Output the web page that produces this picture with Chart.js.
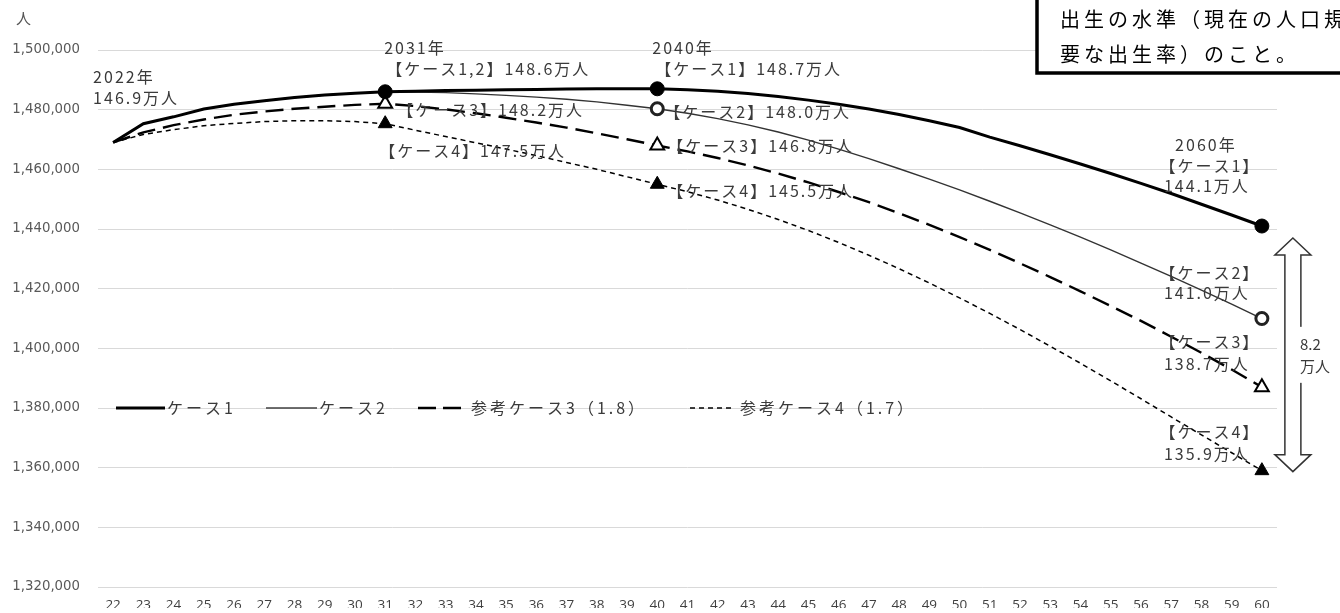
<!DOCTYPE html>
<html>
<head>
<meta charset="utf-8">
<script src="https://cdn.jsdelivr.net/npm/chart.js@4"></script>
<style>
    body { margin: 0; background: #fff; }
    #wrap { width: 1340px; height: 613px; position: relative; }
</style>
</head>
<body>
<div id="wrap"><canvas id="popChart"></canvas></div>
<script>
// years (20xx)
var years = ['22', '23', '24', '25', '26', '27', '28', '29', '30', '31', '32', '33', '34', '35', '36', '37', '38', '39', '40',
    '41', '42', '43', '44', '45', '46', '47', '48', '49', '50', '51', '52', '53', '54', '55', '56', '57', '58', '59', '60'];

var case1 = [1469000, 1475300, 1477600, 1480200, 1481800, 1483000, 1484100, 1484900, 1485500, 1486000,
    1486200, 1486400, 1486500, 1486700, 1486800, 1486900, 1487000, 1487000, 1487000,
    1486700, 1486200, 1485400, 1484400, 1483200, 1481800, 1480200, 1478400, 1476300, 1474000,
    1470800, 1467900, 1464900, 1461800, 1458600, 1455300, 1451900, 1448300, 1444700, 1441000];

var case2 = [1469000, 1475300, 1477600, 1480200, 1481800, 1483000, 1484100, 1484900, 1485500, 1486000,
    1485900, 1485700, 1485300, 1484800, 1484200, 1483500, 1482600, 1481500, 1480300,
    1478800, 1477000, 1474900, 1472500, 1469800, 1466800, 1463600, 1460200, 1456700, 1453100,
    1449300, 1445400, 1441400, 1437300, 1433000, 1428600, 1424100, 1419500, 1414800, 1410000];

var case3 = [1469000, 1472400, 1474800, 1476700, 1478300, 1479400, 1480300, 1481000, 1481600, 1482000,
    1481200, 1480100, 1478800, 1477300, 1475700, 1474000, 1472100, 1470100, 1468000,
    1466000, 1463800, 1461300, 1458600, 1455600, 1452400, 1449000, 1445300, 1441400, 1437300,
    1433000, 1428500, 1423900, 1419100, 1414200, 1409200, 1403900, 1398500, 1392900, 1387000];

var case4 = [1469000, 1471700, 1473300, 1474600, 1475400, 1476000, 1476300, 1476300, 1476000, 1475300,
    1473100, 1471000, 1468900, 1466800, 1464600, 1462300, 1460000, 1457500, 1455000,
    1452500, 1449700, 1446600, 1443200, 1439500, 1435500, 1431200, 1426700, 1421900, 1416900,
    1411700, 1406300, 1400700, 1395000, 1389100, 1383100, 1377000, 1371000, 1365000, 1359000];

var yTicks = { min: 1320000, max: 1500000, step: 20000 };

var legendLabels = ['ケース1', 'ケース2', '参考ケース3（1.8）', '参考ケース4（1.7）'];
var noteLines = ['出生の水準（現在の人口規模を維持するのに必', '要な出生率）のこと。'];

var i31 = years.indexOf('31');
var i40 = years.indexOf('40');
var i60 = years.indexOf('60');

var JP = '"Noto Sans CJK JP", "Noto Sans", sans-serif';

// marker only on 2031 / 2040 / 2060
function markAt(list, size) {
    return years.map(function (y, i) { return list.indexOf(i) >= 0 ? size : 0; });
}

function text(ctx, str, x, y, opt) {
    opt = opt || {};
    ctx.save();
    ctx.font = (opt.size || 16) + 'px ' + JP;
    ctx.fillStyle = opt.color || '#3a3a3a';
    ctx.letterSpacing = (opt.spacing === undefined ? 2 : opt.spacing) + 'px';
    ctx.textBaseline = 'middle';
    var w = ctx.measureText(str).width;
    if (opt.align === 'center') x = x - w / 2;
    ctx.fillText(str, x, y);
    ctx.restore();
}

function legendLine(ctx, x1, x2, y, width, dash, color) {
    ctx.save();
    ctx.strokeStyle = color || '#000';
    ctx.lineWidth = width;
    ctx.setLineDash(dash);
    ctx.beginPath();
    ctx.moveTo(x1, y);
    ctx.lineTo(x2, y);
    ctx.stroke();
    ctx.restore();
}

var overlay = {
    id: 'overlay',
    afterDraw: function (chart) {
        var ctx = chart.ctx;
        var xs = chart.scales.x;
        var ys = chart.scales.y;
        var px = function (i) { return xs.getPixelForValue(i); };
        var py = function (v) { return ys.getPixelForValue(v); };

        text(ctx, '人', 16, 18, { size: 15, color: '#555', spacing: 0 });

        // left / middle labels
        text(ctx, '2022年', px(0) - 20, py(case1[0]) - 66);
        text(ctx, '146.9万人', px(0) - 20, py(case1[0]) - 45);

        text(ctx, '2031年', px(i31) - 1, py(case1[i31]) - 44);
        text(ctx, '【ケース1,2】148.6万人', px(i31) + 1, py(case1[i31]) - 23);
        text(ctx, '【ケース3】148.2万人', px(i31) + 12, py(case3[i31]) + 6);
        text(ctx, '【ケース4】147.5万人', px(i31) - 6, py(case4[i31]) + 27);

        text(ctx, '2040年', px(i40) - 5, py(case1[i40]) - 41);
        text(ctx, '【ケース1】148.7万人', px(i40) - 2, py(case1[i40]) - 20);
        text(ctx, '【ケース2】148.0万人', px(i40) + 7, py(case2[i40]) + 3);
        text(ctx, '【ケース3】146.8万人', px(i40) + 10, py(case3[i40]));
        text(ctx, '【ケース4】145.5万人', px(i40) + 10, py(case4[i40]) + 7);

        // 2060 column
        var cx = px(i60) - 52;
        var c = { align: 'center' };
        text(ctx, '2060年', cx - 4, py(case1[i60]) - 81, c);
        text(ctx, '【ケース1】', cx, py(case1[i60]) - 60, c);
        text(ctx, '144.1万人', cx - 3, py(case1[i60]) - 40, c);
        text(ctx, '【ケース2】', cx, py(case2[i60]) - 46, c);
        text(ctx, '141.0万人', cx - 3, py(case2[i60]) - 26, c);
        text(ctx, '【ケース3】', cx, py(case3[i60]) - 45, c);
        text(ctx, '138.7万人', cx - 3, py(case3[i60]) - 23, c);
        text(ctx, '【ケース4】', cx, py(case4[i60]) - 39, c);
        text(ctx, '135.9万人', cx - 3, py(case4[i60]) - 17, c);

        // double arrow for the 8.2 difference
        var ax = px(i60) + 31;
        var top = py(case1[i60]) + 12;
        var bot = py(case4[i60]) + 1;
        var hw = 18, sw = 8, hh = 17;
        ctx.save();
        ctx.strokeStyle = '#333';
        ctx.lineWidth = 1.5;
        ctx.fillStyle = '#fff';
        ctx.beginPath();
        ctx.moveTo(ax, top);
        ctx.lineTo(ax + hw, top + hh);
        ctx.lineTo(ax + sw, top + hh);
        ctx.lineTo(ax + sw, bot - hh);
        ctx.lineTo(ax + hw, bot - hh);
        ctx.lineTo(ax, bot);
        ctx.lineTo(ax - hw, bot - hh);
        ctx.lineTo(ax - sw, bot - hh);
        ctx.lineTo(ax - sw, top + hh);
        ctx.lineTo(ax - hw, top + hh);
        ctx.closePath();
        ctx.fill();
        ctx.stroke();
        var mid = (top + bot) / 2;
        ctx.fillRect(ax + 5, mid - 28, 60, 56);
        ctx.restore();
        text(ctx, '8.2', ax + 7, mid - 11, { size: 15, spacing: 0 });
        text(ctx, '万人', ax + 7, mid + 11, { size: 15, spacing: 0 });

        // legend inside the plot
        var ly = py(1380000);
        legendLine(ctx, 116, 165, ly, 3, []);
        text(ctx, legendLabels[0], 167, ly, { spacing: 3 });
        legendLine(ctx, 266, 317, ly, 1.3, [], '#404040');
        text(ctx, legendLabels[1], 319, ly, { spacing: 3 });
        legendLine(ctx, 418, 461, ly, 2.4, [18, 7]);
        text(ctx, legendLabels[2], 471, ly, { spacing: 3 });
        legendLine(ctx, 690, 733, ly, 1.5, [5, 4]);
        text(ctx, legendLabels[3], 740, ly, { spacing: 3 });

        // note box (top right, cut by the edge)
        ctx.save();
        ctx.fillStyle = '#fff';
        ctx.strokeStyle = '#000';
        ctx.lineWidth = 3.5;
        ctx.fillRect(1037, -10, 320, 83);
        ctx.strokeRect(1037, -10, 320, 83);
        ctx.restore();
        text(ctx, noteLines[0], 1060, 19, { size: 20, color: '#000', spacing: 4 });
        text(ctx, noteLines[1], 1060, 54, { size: 20, color: '#000', spacing: 4 });
    }
};

var ctx = document.getElementById('popChart').getContext('2d');
var chart = new Chart(ctx, {
    type: 'line',
    data: {
        labels: years,
        datasets: [
            {
                label: legendLabels[0],
                data: case1,
                borderColor: '#000',
                borderWidth: 3,
                pointStyle: 'circle',
                pointRadius: markAt([i31, i40, i60], 7),
                pointBackgroundColor: '#000',
                pointBorderColor: '#000',
                pointBorderWidth: 1
            },
            {
                label: legendLabels[1],
                data: case2,
                borderColor: '#333',
                borderWidth: 1.4,
                pointStyle: 'circle',
                pointRadius: markAt([i40, i60], 6),
                pointBackgroundColor: '#fff',
                pointBorderColor: '#222',
                pointBorderWidth: 3
            },
            {
                label: legendLabels[2],
                data: case3,
                borderColor: '#000',
                borderWidth: 2.4,
                borderDash: [18, 8],
                pointStyle: 'triangle',
                pointRadius: markAt([i31, i40, i60], 8),
                pointBackgroundColor: '#fff',
                pointBorderColor: '#000',
                pointBorderWidth: 2
            },
            {
                label: legendLabels[3],
                data: case4,
                borderColor: '#000',
                borderWidth: 1.5,
                borderDash: [5, 4],
                pointStyle: 'triangle',
                pointRadius: markAt([i31, i40, i60], 8),
                pointBackgroundColor: '#000',
                pointBorderColor: '#000',
                pointBorderWidth: 1
            }
        ]
    },
    options: {
        responsive: true,
        maintainAspectRatio: false,
        animation: false,
        layout: { padding: { top: 50, right: 63, bottom: 0, left: 0 } },
        plugins: {
            legend: { display: false },
            tooltip: { enabled: false }
        },
        elements: { line: { tension: 0 } },
        scales: {
            x: {
                offset: true,
                grid: { display: false },
                border: { display: false },
                ticks: {
                    autoSkip: false,
                    maxRotation: 0,
                    padding: 2,
                    color: '#404040',
                    font: { family: '"Open Sans", sans-serif', size: 13.5 }
                },
                afterFit: function (s) { s.height = 21; }
            },
            y: {
                min: yTicks.min,
                max: yTicks.max,
                ticks: {
                    stepSize: yTicks.step,
                    padding: 18,
                    color: '#595959',
                    font: { family: '"DejaVu Sans", sans-serif', size: 13.3 },
                    callback: function (v) { return v.toLocaleString('en-US'); }
                },
                grid: { color: '#d9d9d9', drawTicks: false },
                border: { display: false },
                afterFit: function (s) { s.width = 98; }
            }
        }
    },
    plugins: [overlay]
});
</script>
</body>
</html>
